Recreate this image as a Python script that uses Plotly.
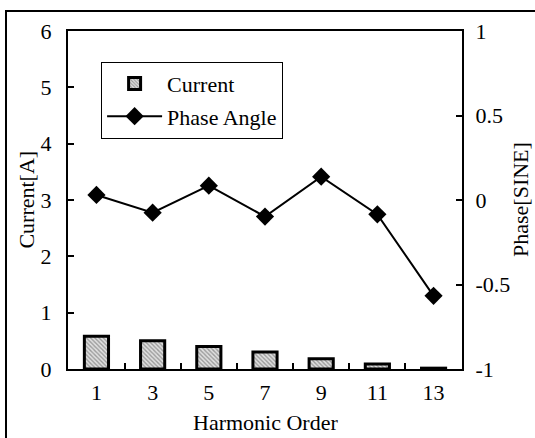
import plotly.graph_objects as go

harmonics = ["1", "3", "5", "7", "9", "11", "13"]
current = [0.58, 0.50, 0.40, 0.30, 0.18, 0.09, 0.015]
phase = [0.03, -0.075, 0.085, -0.098, 0.138, -0.085, -0.567]

FONT = "Times New Roman, Liberation Serif, serif"
FS = 22
TF = dict(family=FONT, size=FS, color="black")

fig = go.Figure()
fig.add_trace(go.Bar(
    x=harmonics, y=current, name="Current", width=0.43, legendgroup="a",
    marker=dict(color="white", line=dict(color="black", width=3),
                pattern=dict(shape="\\", fgcolor="#555555", bgcolor="#e0e0e0",
                             size=3, solidity=0.45)),
    yaxis="y",
))
fig.add_trace(go.Scatter(
    x=harmonics, y=phase, name="Phase Angle", mode="lines+markers", legendgroup="b",
    line=dict(color="black", width=2),
    marker=dict(symbol="diamond", size=14, color="black"),
    yaxis="y2",
))

axis_common = dict(ticks="inside", ticklen=6, tickwidth=1.5, tickcolor="black",
                   showline=True, linecolor="black", linewidth=2,
                   showgrid=False, zeroline=False, automargin=False,
                   tickfont=TF)

fig.update_layout(
    width=535, height=438,
    margin=dict(l=68, r=73, t=31, b=69, autoexpand=False),
    paper_bgcolor="white", plot_bgcolor="white",
    font=TF,
    showlegend=True,
    legend=dict(x=0.084, y=0.909, xanchor="left", yanchor="top",
                bordercolor="black", borderwidth=1, bgcolor="white",
                font=TF, tracegroupgap=1,
                traceorder="grouped", itemwidth=55),
    xaxis=dict(type="category", tickson="boundaries", mirror=True,
               ticklabelstandoff=3, **axis_common),
    yaxis=dict(range=[0, 6], dtick=1, ticklabelstandoff=10, **axis_common),
    yaxis2=dict(range=[-1, 1], overlaying="y", side="right",
                tickvals=[-1, -0.5, 0, 0.5, 1], ticktext=["-1", "-0.5", "0", "0.5", "1"],
                ticklabelstandoff=7, **axis_common),
    bargap=0.57,
    annotations=[
        dict(text="Harmonic Order", xref="paper", yref="paper", x=0.5, y=-0.157,
             xanchor="center", yanchor="middle", showarrow=False, font=TF),
        dict(text="Current[A]", xref="paper", yref="paper", x=(25.6 - 68) / 394, y=0.5,
             xanchor="center", yanchor="middle", textangle=-90, showarrow=False, font=TF),
        dict(text="Phase[SINE]", xref="paper", yref="paper", x=(520 - 68) / 394, y=0.5,
             xanchor="center", yanchor="middle", textangle=-90, showarrow=False, font=TF),
    ],
)

# outer frame around figure
fig.add_shape(type="rect", xref="paper", yref="paper",
              x0=(6 - 68) / 394, x1=1.3, y0=-0.3, y1=(369 - 11) / 338,
              line=dict(color="black", width=2), layer="below")

fig.write_html("out.html", config={"displayModeBar": False},
               post_script="document.body.style.margin='0';document.body.style.overflow='hidden';")
